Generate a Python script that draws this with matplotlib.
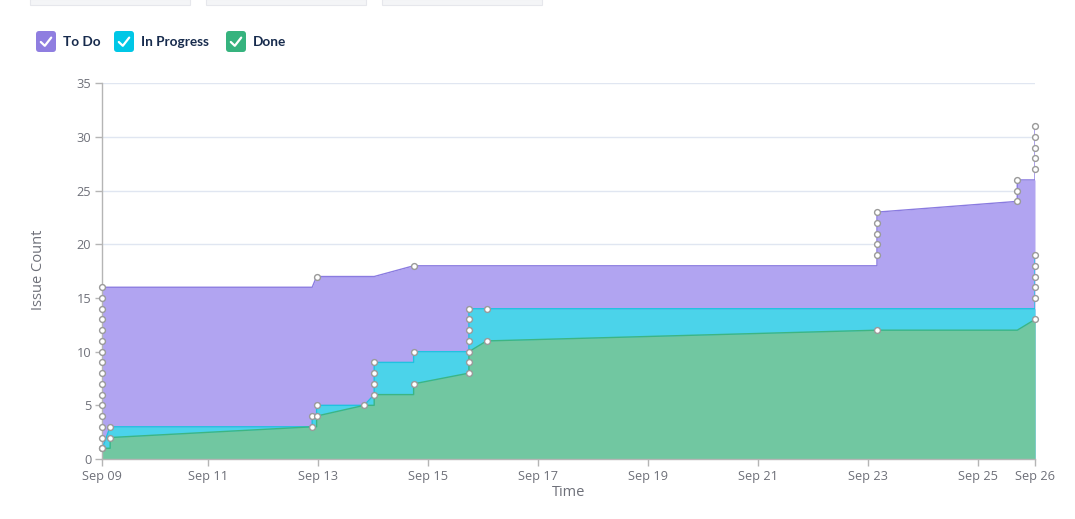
import matplotlib
matplotlib.use("Agg")
import matplotlib.pyplot as plt
import matplotlib.dates as mdates
from matplotlib.patches import FancyBboxPatch, Rectangle
from matplotlib.lines import Line2D
import pandas as pd
import numpy as np

# ---------------- data ----------------
series_names = ["To Do", "In Progress", "Done"]

# Cumulative boundary of "Done" (bottom band)
done_times = ["2024-09-09 01:48", "2024-09-09 01:48", "2024-09-09 05:14", "2024-09-09 05:14",
              "2024-09-12 21:23", "2024-09-12 23:18", "2024-09-12 23:18", "2024-09-13 20:04",
              "2024-09-14 00:26", "2024-09-14 00:26", "2024-09-14 17:38", "2024-09-14 17:38",
              "2024-09-15 17:46", "2024-09-15 17:46", "2024-09-15 17:46", "2024-09-16 01:29",
              "2024-09-23 03:48", "2024-09-25 17:01", "2024-09-26 00:45"]
done_values = [0, 1, 1, 2, 3, 3, 4, 5, 5, 6, 6, 7, 8, 9, 10, 11, 12, 12, 13]
done_marked = [0, 1, 0, 1, 1, 0, 1, 1, 0, 1, 0, 1, 1, 1, 1, 1, 1, 0, 1]

# Cumulative boundary of "Done + In Progress"
prog_times = ["2024-09-09 01:48", "2024-09-09 01:48", "2024-09-09 05:14",
              "2024-09-12 21:23", "2024-09-12 21:23", "2024-09-12 23:18", "2024-09-12 23:18",
              "2024-09-13 20:04", "2024-09-14 00:26", "2024-09-14 00:26", "2024-09-14 00:26",
              "2024-09-14 00:26", "2024-09-14 17:38", "2024-09-14 17:38", "2024-09-15 17:46",
              "2024-09-15 17:46", "2024-09-15 17:46", "2024-09-15 17:46", "2024-09-15 17:46",
              "2024-09-16 01:29", "2024-09-26 00:45", "2024-09-26 00:45", "2024-09-26 00:45",
              "2024-09-26 00:45", "2024-09-26 00:45", "2024-09-26 00:45"]
prog_values = [0, 1, 3, 3, 4, 4, 5, 5, 6, 7, 8, 9, 9, 10, 10, 11, 12, 13, 14, 14,
               14, 15, 16, 17, 18, 19]
prog_marked = [0, 0, 1, 0, 1, 0, 1, 0, 0, 1, 1, 1, 0, 1, 0, 1, 1, 1, 1, 1,
               0, 1, 1, 1, 1, 1]

# Cumulative boundary of all issues (top of "To Do")
total_times = ["2024-09-09 01:48"] * 17 + [
    "2024-09-12 21:23", "2024-09-12 23:18", "2024-09-14 00:26", "2024-09-14 17:38",
    "2024-09-23 03:48", "2024-09-23 03:48", "2024-09-23 03:48", "2024-09-23 03:48",
    "2024-09-23 03:48", "2024-09-23 03:48",
    "2024-09-25 17:01", "2024-09-25 17:01", "2024-09-25 17:01",
    "2024-09-26 00:45", "2024-09-26 00:45", "2024-09-26 00:45", "2024-09-26 00:45",
    "2024-09-26 00:45", "2024-09-26 00:45"]
total_values = list(range(0, 17)) + [16, 17, 17, 18, 18, 19, 20, 21, 22, 23,
                                     24, 25, 26, 26, 27, 28, 29, 30, 31]
total_marked = [0] + [1] * 16 + [0, 1, 0, 1, 0, 1, 1, 1, 1, 1, 1, 1, 1, 0, 1, 1, 1, 1, 1]

y_ticks = [0, 5, 10, 15, 20, 25, 30, 35]
x_label = "Time"
y_label = "Issue Count"

# ---------------- style ----------------
W, H = 1075, 519
fill_colors = {"To Do": "#b1a4f1", "In Progress": "#4bd3ea", "Done": "#71c7a1"}
line_colors = {"To Do": "#8a7be0", "In Progress": "#1fc3e0", "Done": "#3db583"}
box_colors = {"To Do": "#8f7ee0", "In Progress": "#00c7e6", "Done": "#36b37e"}
grey_text = "#6e7079"
axis_grey = "#b5b5b5"

plt.rcParams['font.family'] = ['Open Sans', 'DejaVu Sans']

fig = plt.figure(figsize=(W / 100, H / 100), dpi=100)
ax = fig.add_axes([102.3 / W, (519 - 459) / H, (1035 - 102.3) / W, (459 - 83.3) / H])


def to_num(ts):
    return mdates.date2num(pd.to_datetime(ts).to_pydatetime())


xd, xp, xt = to_num(done_times), to_num(prog_times), to_num(total_times)
yd, yp, yt = np.array(done_values), np.array(prog_values), np.array(total_values)

ax.fill_between(xt, yt, 0, color=fill_colors["To Do"], lw=0, zorder=2)
ax.fill_between(xp, yp, 0, color=fill_colors["In Progress"], lw=0, zorder=3)
ax.fill_between(xd, yd, 0, color=fill_colors["Done"], lw=0, zorder=4)

ax.plot(xt, yt, color=line_colors["To Do"], lw=1, zorder=5)
ax.plot(xp, yp, color=line_colors["In Progress"], lw=1, zorder=6)
ax.plot(xd, yd, color=line_colors["Done"], lw=1, zorder=7)

for xs, ys, flags in [(xt, yt, total_marked), (xp, yp, prog_marked), (xd, yd, done_marked)]:
    f = np.array(flags, dtype=bool)
    ax.plot(xs[f], ys[f], ls="none", marker="o", ms=4.2, mfc="white",
            mec="#9a9a9a", mew=1.0, zorder=9, clip_on=False)

xmin = min(xd.min(), xp.min(), xt.min())
xmax = max(xd.max(), xp.max(), xt.max())
ax.set_xlim(xmin, xmax)
ax.set_ylim(0, 35)

# grid
ax.set_yticks(y_ticks)
for yv in y_ticks[1:]:
    ax.axhline(yv, color="#e0e6f1", lw=1, zorder=1)

# x ticks: axis ends + every other day
mid_days = pd.date_range("2024-09-11", "2024-09-25", freq="2D")
tick_pos = [xmin] + list(mdates.date2num(mid_days.to_pydatetime())) + [xmax]
tick_lab = [mdates.num2date(t).strftime("%b %d") for t in tick_pos]
ax.set_xticks(tick_pos)
ax.set_xticklabels(tick_lab)

for s in ["top", "right"]:
    ax.spines[s].set_visible(False)
for s in ["left", "bottom"]:
    ax.spines[s].set_color(axis_grey)
    ax.spines[s].set_linewidth(1)
    ax.spines[s].set_zorder(8)
ax.tick_params(axis="both", colors=axis_grey, labelcolor=grey_text, labelsize=9.2,
               length=5, width=1)
ax.tick_params(axis="y", pad=3)
ax.tick_params(axis="x", pad=3)

fig.text(38 / W, 1 - 270 / H, y_label, rotation=90, ha="center", va="center",
         color=grey_text, fontsize=10.5)
fig.text(569 / W, 1 - 492 / H, x_label, ha="center", va="center",
         color=grey_text, fontsize=10.5)

# legend checkboxes
legend_box_x = {"To Do": 36, "In Progress": 114, "Done": 226}
for name in series_names:
    bx = legend_box_x[name]
    box = FancyBboxPatch((bx / W, 1 - 52 / H), 20 / W, 21 / H,
                         boxstyle="round,pad=0,rounding_size=0.003",
                         transform=fig.transFigure, facecolor=box_colors[name],
                         edgecolor="none", mutation_aspect=W / H)
    fig.add_artist(box)
    check = Line2D([(bx + 4.8) / W, (bx + 8.8) / W, (bx + 15.2) / W],
                   [1 - 42.0 / H, 1 - 45.8 / H, 1 - 37.6 / H],
                   transform=fig.transFigure, color="white", lw=1.6,
                   solid_capstyle="round", solid_joinstyle="round")
    fig.add_artist(check)
    fig.text((bx + 27) / W, 1 - 41.5 / H, name, ha="left", va="center",
             color="#172b4d", fontsize=9.8, family=["Lato", "DejaVu Sans"],
             fontweight="bold")

# faint cards at the top edge
for cx in [30, 206, 382]:
    fig.add_artist(Rectangle((cx / W, 1 - 5 / H), 160 / W, 6 / H,
                             transform=fig.transFigure, facecolor="#f4f5f7",
                             edgecolor="#e6e7ec", lw=0.8))

fig.savefig("out.png", dpi=100, facecolor="white")
